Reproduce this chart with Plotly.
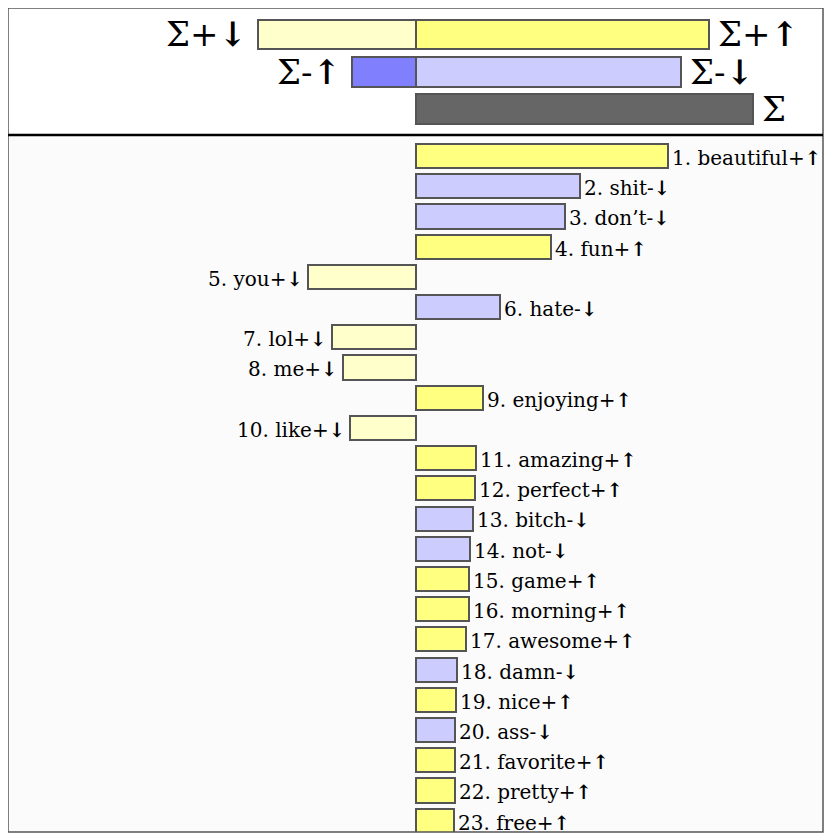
import plotly.graph_objects as go

# word shift contributions (arbitrary units)
WORDS = ['beautiful', 'shit', 'don\u2019t', 'fun', 'you', 'hate', 'lol', 'me',
         'enjoying', 'like', 'amazing', 'perfect', 'bitch', 'not', 'game',
         'morning', 'awesome', 'damn', 'nice', 'ass', 'favorite', 'pretty', 'free']
SHIFTS = [2.52, 1.64, 1.49, 1.35, -1.08, 0.84, -0.84, -0.73,
          0.67, -0.66, 0.60, 0.59, 0.57, 0.54, 0.53,
          0.53, 0.50, 0.41, 0.40, 0.39, 0.39, 0.39, 0.38]
KINDS = ['+\u2191', '-\u2193', '-\u2193', '+\u2191', '+\u2193', '-\u2193', '+\u2193', '+\u2193',
         '+\u2191', '+\u2193', '+\u2191', '+\u2191', '-\u2193', '-\u2193', '+\u2191',
         '+\u2191', '+\u2191', '-\u2193', '+\u2191', '-\u2193', '+\u2191', '+\u2191', '+\u2191']

# summary rows at the top
SUM_ROWS = [0, 0, 1, 1, 2]
SUM_VALUES = [-1.58, 2.93, -0.64, 2.65, 3.37]
SUM_LABELS = ['\u03a3+\u2193', '\u03a3+\u2191', '\u03a3-\u2191', '\u03a3-\u2193', '\u03a3']
SUM_COLORS = ['#FFFFCC', '#FFFF80', '#8080FF', '#CCCCFF', '#666666']

KIND_COLORS = {'+\u2191': '#FFFF80', '+\u2193': '#FFFFCC',
               '-\u2193': '#CCCCFF', '-\u2191': '#8080FF'}

FONT = 'DejaVu Serif'
OUTLINE = dict(color='#555555', width=2)


def bold_arrows(s):
    # arrows are drawn heavier than the letters in the original
    return s.replace('\u2191', '<b>\u2191</b>').replace('\u2193', '<b>\u2193</b>')


fig = go.Figure()

# top panel: totals
fig.add_trace(go.Bar(
    x=SUM_VALUES, y=SUM_ROWS, orientation='h', width=0.8,
    marker=dict(color=SUM_COLORS, line=OUTLINE),
    xaxis='x', yaxis='y2', showlegend=False, hoverinfo='skip'
))

# lower panel: individual words
rows = list(range(len(WORDS)))
fig.add_trace(go.Bar(
    x=SHIFTS, y=rows, orientation='h', width=0.8,
    marker=dict(color=[KIND_COLORS[k] for k in KINDS], line=OUTLINE),
    xaxis='x', yaxis='y', showlegend=False, hoverinfo='skip'
))

annotations = []
for r, v, lab in zip(SUM_ROWS, SUM_VALUES, SUM_LABELS):
    annotations.append(dict(
        x=v, y=r, xref='x', yref='y2', text=bold_arrows(lab), showarrow=False,
        xanchor='left' if v > 0 else 'right', xshift=7 if v > 0 else -9,
        font=dict(family=FONT, size=34, color='black')
    ))
for i, (w, v, k) in enumerate(zip(WORDS, SHIFTS, KINDS)):
    annotations.append(dict(
        x=v, y=i, xref='x', yref='y', text=bold_arrows(f'{i + 1}. {w}{k}'), showarrow=False,
        xanchor='left' if v > 0 else 'right', xshift=2 if v > 0 else -3, yshift=-2,
        font=dict(family=FONT, size=20, color='black')
    ))

SPLIT = 0.846
shapes = [
    # light background of the word panel
    dict(type='rect', xref='paper', yref='paper', x0=0, x1=1, y0=0, y1=SPLIT,
         fillcolor='#FBFBFB', line=dict(width=0), layer='below'),
    # frame
    dict(type='rect', xref='paper', yref='paper', x0=0, x1=1, y0=0, y1=1,
         line=dict(color='#555555', width=1.5)),
    # divider between panels
    dict(type='line', xref='paper', yref='paper', x0=0, x1=1, y0=SPLIT, y1=SPLIT,
         line=dict(color='black', width=2.5)),
]

fig.update_layout(
    width=824, height=831,
    margin=dict(l=0, r=9, t=0, b=7),
    paper_bgcolor='white', plot_bgcolor='white',
    barmode='overlay', bargap=0,
    xaxis=dict(range=[-4.08, 4.07], visible=False, fixedrange=True),
    yaxis=dict(domain=[0, SPLIT], range=[22.38, -0.70], visible=False),
    yaxis2=dict(domain=[SPLIT, 1], range=[2.687, -0.709], visible=False),
    annotations=annotations, shapes=shapes,
)

fig.write_html('out.html')
